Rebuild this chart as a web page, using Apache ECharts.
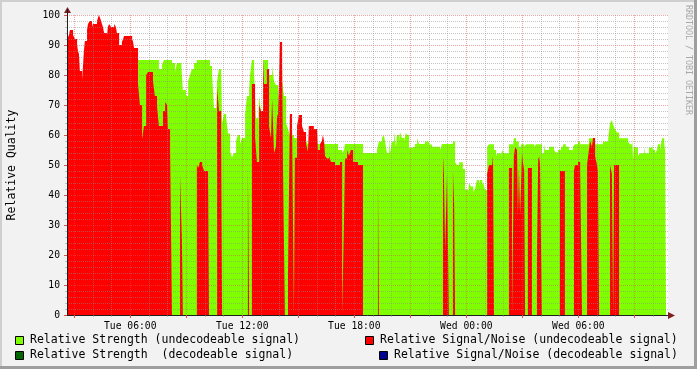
<!DOCTYPE html>
<html><head><meta charset="utf-8">
<script src="https://cdn.jsdelivr.net/npm/echarts@6/dist/echarts.min.js"></script>
<style>html,body{margin:0;padding:0;background:#f2f2f2}#c{width:697px;height:369px}</style>
</head><body><div id="c"></div>
<script>
// time = minutes since Tue 00:00, value holds until the next point
const strengthUndecodeable = [[385,85],[452,82],[462,83.5],[468,85],[494,84],[504,81],[510,84],[523,85],[529,75],[539,73],[546,78],[552,80],[558,82],[565,84],[574,85],[616,83],[623,80],[629,69],[636,68],[639,78],[645,82],[652,81],[655,64],[661,67],[668,66],[674,60.5],[681,54.5],[687,52.5],[693,54],[700,58],[706,60],[713,57],[719,59],[729,67],[735,73],[742,75],[745,80],[751,85],[758,80.6],[764,65.6],[771,62.8],[774,73],[780,68],[787,85],[803,80],[816,83],[822,78],[828,76.7],[835,70],[841,81.7],[848,78],[854,73],[861,64],[867,62],[873,60],[886,59],[925,58],[931,57],[1028,55],[1041,54],[1047,55],[1050,57],[1108,54],[1153,55],[1159,57.8],[1169,59],[1175,60],[1179,57.8],[1185,54],[1192,59],[1195,54],[1201,57.8],[1208,61],[1214,56],[1217,60],[1224,57.8],[1227,61],[1233,59],[1240,58],[1246,60.8],[1249,60],[1256,55.6],[1262,56.1],[1275,57],[1282,59],[1288,57],[1307,57.8],[1320,56.8],[1330,56.1],[1356,55],[1362,57],[1397,57.8],[1404,50.9],[1410,50],[1417,50.9],[1429,48.7],[1436,41.7],[1446,41],[1449,43.9],[1455,42.8],[1462,41.1],[1468,42],[1474,45],[1481,43],[1484,45],[1491,43.3],[1494,44.4],[1500,41.7],[1507,56.1],[1513,56.9],[1529,55],[1536,52.8],[1539,53.9],[1552,52.8],[1555,55],[1561,53.9],[1577,56.9],[1590,56.1],[1593,58.9],[1600,57.8],[1609,56.1],[1616,56.9],[1626,56.1],[1632,56.9],[1658,56.1],[1664,56.9],[1683,53.9],[1690,56.9],[1693,55],[1706,56.1],[1722,55],[1728,54.2],[1735,55],[1744,56.1],[1751,56.9],[1760,56.1],[1770,55],[1783,56.1],[1789,56.9],[1799,57.8],[1806,56.9],[1834,58.9],[1847,57.8],[1854,56.9],[1879,57.8],[1896,58.9],[1902,63.9],[1908,65],[1912,63.3],[1915,63.9],[1918,61.9],[1924,60.8],[1931,58.9],[1960,57.8],[1966,56.9],[1973,60],[1976,52],[1979,56.1],[1982,55.8],[1992,53],[1998,53.9],[2011,56.1],[2014,53.9],[2027,55.8],[2037,56.9],[2040,55],[2047,53.9],[2053,55],[2056,56.9],[2063,55],[2069,58.9],[2076,55],[2079,57.8],[2082,57.8]];
const snrUndecodeable = [[157,92],[163,93.3],[166,95],[176,93.3],[182,92],[189,90],[192,88],[195,87],[198,81.3],[205,78.3],[208,83],[211,88],[214,91.3],[221,95],[224,97],[230,98],[237,96],[240,97],[253,98],[256,99],[259,100],[263,99],[266,98],[269,97],[272,96],[276,94],[285,93],[288,96],[292,97],[298,96],[308,97],[314,96],[317,94],[324,90],[333,91],[337,92],[340,93],[366,92],[369,91],[372,89],[385,77],[391,70],[398,58.5],[404,63],[411,80],[417,81],[433,78],[439,73],[446,69.5],[452,63],[465,68],[472,71],[478,70],[481,62],[488,55],[494,0],[520,47],[526,24.5],[529,0],[574,50],[578,49],[584,51],[591,50],[597,48],[610,47],[613,0],[639,76],[645,68],[652,61],[655,0],[738,49],[742,0],[751,77],[761,59.4],[767,51],[774,70],[780,68],[787,86],[790,77],[799,82],[806,63],[812,59],[816,72],[822,54],[828,56],[832,67],[835,66],[841,91],[848,85],[851,48],[857,0],[867,13.7],[873,67],[880,62],[886,0],[889,52.4],[896,63],[902,66.7],[912,63],[918,61],[925,57],[931,54.4],[934,63],[950,62],[960,63],[963,55],[970,57],[976,58],[979,60],[983,58],[986,53],[992,52.2],[999,53],[1005,51],[1018,50],[1034,51],[1041,0],[1047,32],[1050,52.2],[1057,55],[1063,53],[1069,55],[1076,51],[1092,50],[1108,0],[1156,46],[1159,0],[1365,53],[1368,47],[1372,21.7],[1378,47],[1384,0],[1397,48],[1401,36.7],[1404,0],[1507,47],[1513,50],[1523,53],[1526,50],[1529,0],[1577,49],[1587,0],[1593,53],[1597,56],[1603,55],[1606,33],[1609,49],[1613,33.3],[1619,54],[1622,51],[1626,48],[1629,0],[1638,49],[1651,0],[1667,18],[1671,51.7],[1674,53],[1677,50],[1683,0],[1741,48],[1757,0],[1786,48],[1789,50],[1799,51],[1806,48],[1812,0],[1828,50],[1834,55],[1838,58],[1844,56],[1847,59],[1854,53],[1860,50],[1863,48],[1867,0],[1902,50],[1908,47],[1912,0],[1915,50],[1931,0],[2082,0]];
const hourTicks = [180,240,300,360,420,480,540,600,660,720,780,840,900,960,1020,1080,1140,1200,1260,1320,1380,1440,1500,1560,1620,1680,1740,1800,1860,1920,1980,2040];
const majorTicks = [180,360,540,720,900,1080,1260,1440,1620,1800,1980];
const labelTicks = [360,720,1080,1440,1800];
const labelTexts = ['Tue 06:00','Tue 12:00','Tue 18:00','Wed 00:00','Wed 06:00'];
const seriesNames = ['Relative Strength (undecodeable signal)','Relative Signal/Noise (undecodeable signal)','Relative Strength  (decodeable signal)','Relative Signal/Noise (decodeable signal)'];
const seriesColors = ['#80ff00','#ff0000','#006400','#000090'];
const xMin = 156.6, xMax = 2088.3;

const MONO = 'DejaVu Sans Mono';
const minorGrid = 'rgba(140,140,140,0.5)';
const majorGrid = 'rgba(222,79,79,0.5)';
const axisCol = 'rgb(31,31,31)';
const arrowCol = 'rgb(128,31,31)';

const chart = echarts.init(document.getElementById('c'), null, {renderer:'canvas'});
const legendItems = [
  {x:15, y:336, tx:30, ty:340.5, i:0},
  {x:365, y:336, tx:380, ty:340.5, i:1},
  {x:15, y:351, tx:30, ty:355.5, i:2},
  {x:379, y:351, tx:394, ty:355.5, i:3}
];
const graphics = [
  {type:'rect', shape:{x:0,y:0,width:697,height:2}, style:{fill:'#cfcfcf'}, z:0},
  {type:'rect', shape:{x:0,y:0,width:2,height:369}, style:{fill:'#cfcfcf'}, z:0},
  {type:'rect', shape:{x:0,y:366,width:697,height:3}, style:{fill:'#9e9e9e'}, z:0},
  {type:'rect', shape:{x:694,y:0,width:3,height:369}, style:{fill:'#9e9e9e'}, z:0},
  {type:'polygon', shape:{points:[[668,312],[675,315.5],[668,319]]}, style:{fill:arrowCol}, z:20},
  {type:'polygon', shape:{points:[[64,13],[67.5,7],[71,13]]}, style:{fill:arrowCol}, z:20},
  {type:'line', shape:{x1:67.5,y1:9,x2:67.5,y2:15}, style:{stroke:axisCol,lineWidth:1}, z:20},
  {type:'text', x:12, y:165, rotation:Math.PI/2, style:{text:'Relative Quality', font:'11.5px "DejaVu Sans Mono"', fill:'#000', align:'center', verticalAlign:'middle'}},
  {type:'text', x:688, y:60, rotation:-Math.PI/2, style:{text:'RRDTOOL / TOBI OETIKER', font:'8.3px "DejaVu Sans Mono"', fill:'#a8a8a8', align:'center', verticalAlign:'middle'}}
];
legendItems.forEach(l => {
  graphics.push({type:'rect', shape:{x:l.x+0.5,y:l.y+0.5,width:8,height:8}, style:{fill:seriesColors[l.i], stroke:'#000', lineWidth:1}});
  graphics.push({type:'text', x:l.tx, y:l.ty, style:{text:seriesNames[l.i], font:'11.5px "DejaVu Sans Mono"', fill:'#000', verticalAlign:'middle'}});
});

chart.setOption({
  animation:false,
  backgroundColor:'#f2f2f2',
  grid:{left:67, top:15, width:601, height:300, show:true, backgroundColor:'#ffffff', borderWidth:0},
  xAxis:[{
    type:'value', min:xMin, max:xMax, z:10,
    axisLine:{show:true, onZero:false, lineStyle:{color:axisCol, width:1}},
    axisTick:{show:true, customValues:hourTicks, length:2, lineStyle:{color:minorGrid}},
    axisLabel:{show:true, customValues:labelTicks, margin:6, fontFamily:MONO, fontSize:9.7, color:'#000',
      formatter:v => labelTexts[labelTicks.indexOf(Math.round(v))] || ''},
    splitLine:{show:true, lineStyle:{color:[majorGrid,minorGrid,minorGrid], type:[1,1], width:1}}
  },{
    type:'value', min:xMin, max:xMax, z:11, position:'bottom',
    axisLine:{show:false},
    axisTick:{show:true, customValues:majorTicks, length:3, lineStyle:{color:'rgb(222,79,79)'}},
    axisLabel:{show:false},
    splitLine:{show:false}
  }],
  yAxis:{
    type:'value', min:0, max:100, interval:10, z:10,
    axisLine:{show:true, lineStyle:{color:axisCol}},
    axisTick:{show:true, length:3, lineStyle:{color:'rgb(222,79,79)'}},
    minorTick:{show:true, splitNumber:5, length:2, lineStyle:{color:minorGrid}},
    axisLabel:{margin:7, fontFamily:MONO, fontSize:9.7, color:'#000'},
    splitLine:{show:true, lineStyle:{color:majorGrid, type:[1,1], width:1}},
    minorSplitLine:{show:true, lineStyle:{color:minorGrid, type:[1,1], width:1}}
  },
  series:[
    {name:seriesNames[0], type:'line', step:'end', data:strengthUndecodeable, showSymbol:false, symbol:'none',
     lineStyle:{width:0}, areaStyle:{color:seriesColors[0], opacity:1}, itemStyle:{color:seriesColors[0]}, z:2},
    {name:seriesNames[1], type:'line', step:'end', data:snrUndecodeable, showSymbol:false, symbol:'none',
     lineStyle:{width:0}, areaStyle:{color:seriesColors[1], opacity:1}, itemStyle:{color:seriesColors[1]}, z:3}
  ],
  graphic:graphics
});
</script></body></html>
